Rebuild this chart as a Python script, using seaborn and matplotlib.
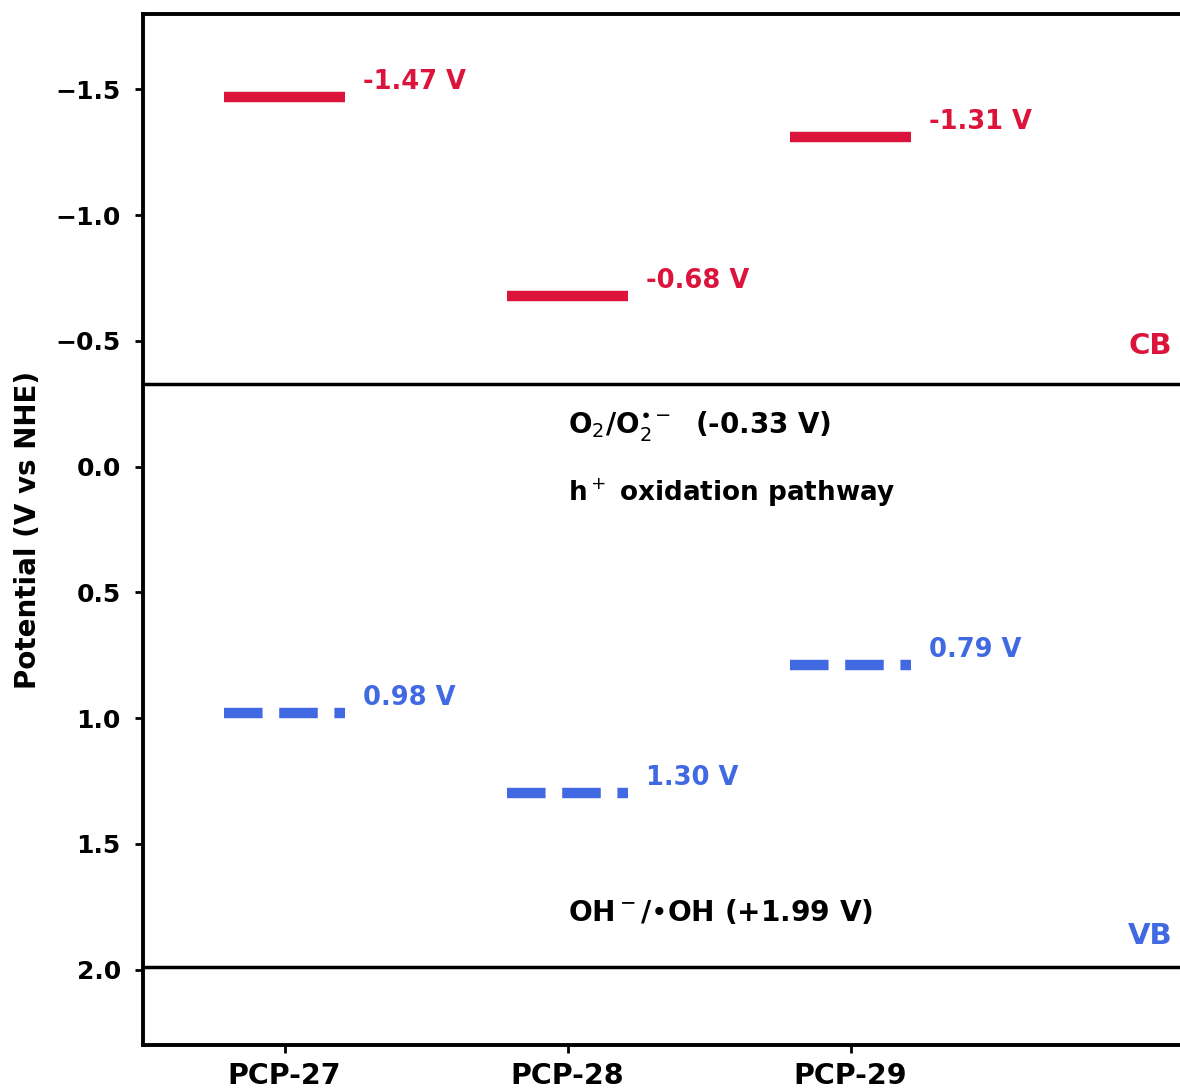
import pandas as pd
import matplotlib.pyplot as plt
import seaborn as sns

# band edge potentials (V vs NHE)
materials = ['PCP-27', 'PCP-28', 'PCP-29']
cb_values = [-1.47, -0.68, -1.31]
vb_values = [0.98, 1.30, 0.79]
o2_level = -0.33
oh_level = 1.99

red = '#DC143C'
blue = '#4169E1'
half = 0.213  # half length of each level bar

sns.set_style('ticks', {'axes.edgecolor': 'black', 'text.color': 'black',
                        'xtick.color': 'black', 'ytick.color': 'black',
                        'axes.labelcolor': 'black'})
plt.rcParams['font.family'] = ['DejaVu Sans']

fig = plt.figure(figsize=(11.8, 10.91), dpi=100)
ax = fig.add_axes([0.1212, 0.0422, 0.8958, 0.945])


def level_frame(values):
    rows = []
    for i, (m, v) in enumerate(zip(materials, values)):
        rows.append({'material': m, 'x': i - half, 'E': v})
        rows.append({'material': m, 'x': i + half, 'E': v})
    return pd.DataFrame(rows)


cb_df = level_frame(cb_values)
vb_df = level_frame(vb_values)

sns.lineplot(data=cb_df, x='x', y='E', units='material', estimator=None,
             color=red, lw=7.5, solid_capstyle='butt', ax=ax)
sns.lineplot(data=vb_df, x='x', y='E', units='material', estimator=None,
             color=blue, lw=7.5, linestyle='--', ax=ax)

for i, v in enumerate(cb_values):
    ax.text(i + 0.277, v - 0.06, f'{v:.2f} V', color=red, fontsize=18.5,
            fontweight='bold', va='center', ha='left')
for i, v in enumerate(vb_values):
    ax.text(i + 0.277, v - 0.06, f'{v:.2f} V', color=blue, fontsize=18.5,
            fontweight='bold', va='center', ha='left')

# redox reference levels
ax.axhline(o2_level, color='black', lw=2.5)
ax.axhline(oh_level, color='black', lw=2.5)

ax.text(1.0, -0.16, r'O$_2$/O$_2^{\bullet-}$  (-0.33 V)', fontsize=20,
        fontweight='bold', va='center', ha='left')
ax.text(1.0, 0.105, r'h$^+$ oxidation pathway', fontsize=18.9,
        fontweight='bold', va='center', ha='left')
ax.text(1.0, 1.775, r'OH$^-$/•OH (+1.99 V)', fontsize=20.2,
        fontweight='bold', va='center', ha='left')

ax.text(3.136, -0.48, 'CB', color=red, fontsize=21, fontweight='bold',
        va='center', ha='right')
ax.text(3.136, 1.865, 'VB', color=blue, fontsize=21, fontweight='bold',
        va='center', ha='right')

ax.set_xlim(-0.5, 3.235)
ax.set_ylim(2.3, -1.8)
ax.set_xticks(range(len(materials)))
ax.set_xticklabels(materials, fontsize=20.5, fontweight='bold')
ax.set_yticks([-1.5, -1.0, -0.5, 0.0, 0.5, 1.0, 1.5, 2.0])
ax.tick_params(axis='y', labelsize=18, width=2, length=6, pad=10)
ax.tick_params(axis='x', width=2, length=6, pad=6)
for lab in ax.get_yticklabels():
    lab.set_fontweight('bold')
ax.set_xlabel('')
ax.set_ylabel('Potential (V vs NHE)', fontsize=20, fontweight='bold',
              labelpad=10)
for s in ax.spines.values():
    s.set_linewidth(2.8)

fig.savefig('out.png', dpi=100)
